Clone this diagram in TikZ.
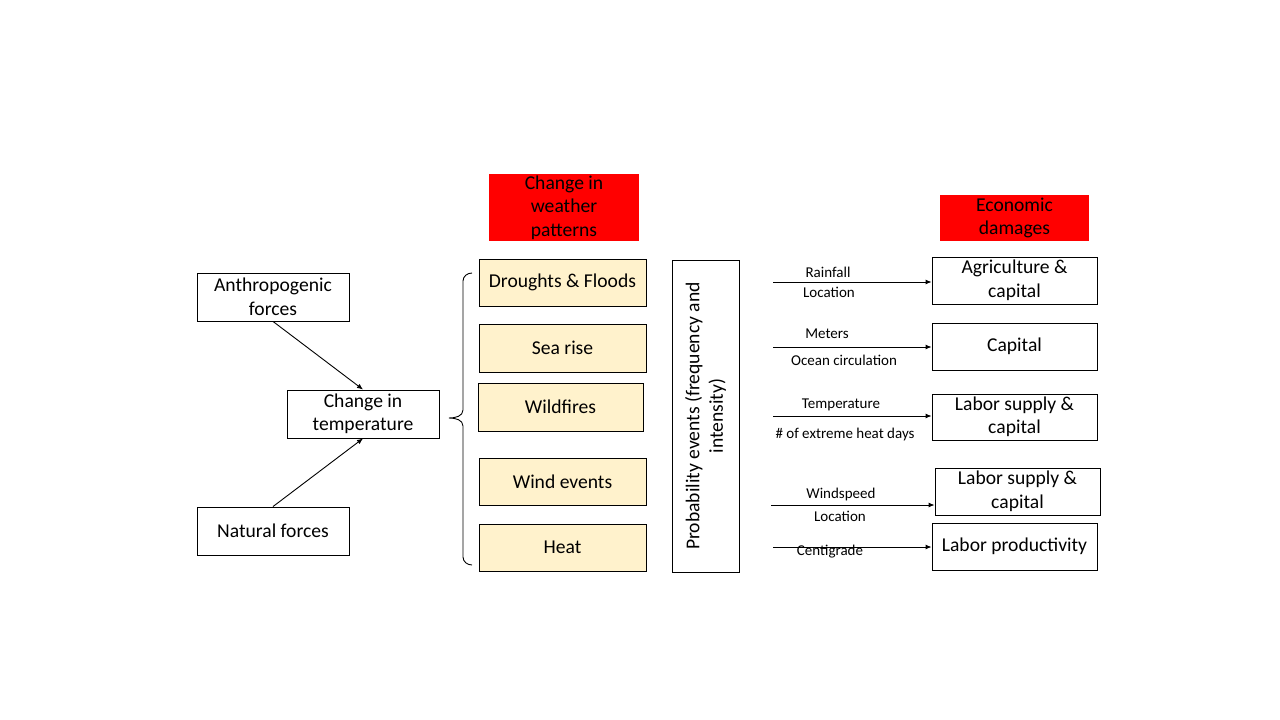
\documentclass[tikz,border=0pt]{standalone}
\usepackage{fontspec}
\setmainfont{Carlito}
\usetikzlibrary{arrows.meta}
\definecolor{lightyel}{RGB}{255,242,204}
\tikzset{
  box/.style={draw, line width=0.9pt, align=center, inner sep=0pt, font=\fontsize{19.6}{23.5}\selectfont},
  ybox/.style={box, fill=lightyel},
  rbox/.style={fill=red, align=center, inner sep=0pt, font=\fontsize{19.6}{23.5}\selectfont},
  lbl/.style={inner sep=0pt, font=\fontsize{15}{17}\selectfont},
  conn/.style={line width=0.9pt, -{Latex[length=6pt,width=5pt]}}
}
\begin{document}
\begin{tikzpicture}[x=1pt,y=-1pt]
\useasboundingbox (0,0) rectangle (1280,720);
% left column
\node[box, minimum width=152, minimum height=48] (anthro) at (273,297) {Anthropogenic\\forces};
\node[box, minimum width=152, minimum height=48] (nat) at (273,531) {Natural forces};
\node[box, minimum width=152, minimum height=48] (temp) at (363,414) {Change in\\temperature};
\draw[conn] (anthro.south) -- (temp.north);
\draw[conn] (nat.north) -- (temp.south);
% brace
\draw[line width=0.9pt] (472,273) to[out=180,in=90] (463,281) -- (463,410) to[out=-90,in=0] (449,418) to[out=0,in=90] (463,426) -- (463,557) to[out=-90,in=180] (472,565);
% weather
\node[rbox, minimum width=150, minimum height=67] (weather) at (564,207.5) {Change in\\weather\\patterns};
\node[ybox, minimum width=167, minimum height=47] (drought) at (562.5,282.5) {Droughts \& Floods};
\node[ybox, minimum width=167, minimum height=48] (sea) at (562.5,348) {Sea rise};
\node[ybox, minimum width=165, minimum height=48] (fire) at (560.5,407) {Wildfires};
\node[ybox, minimum width=167, minimum height=47] (wind) at (562.5,481.5) {Wind events};
\node[ybox, minimum width=167, minimum height=47] (heat) at (562.5,547.5) {Heat};
\node[box, rotate=90, minimum width=312, minimum height=67] (prob) at (705.5,416) {Probability events (frequency and\\intensity)};
% economic
\node[rbox, minimum width=149, minimum height=46] (econ) at (1014.5,218) {Economic\\damages};
\node[box, minimum width=165, minimum height=47] (agri) at (1014.5,280.5) {Agriculture \&\\capital};
\node[box, minimum width=165, minimum height=47] (cap) at (1014.5,346.5) {Capital};
\node[box, minimum width=165, minimum height=46] (lab1) at (1014.5,417) {Labor supply \&\\capital};
\node[box, minimum width=165, minimum height=47] (lab2) at (1017.5,491.5) {Labor supply \&\\capital};
\node[box, minimum width=165, minimum height=47] (prod) at (1014.5,546.5) {Labor productivity};
% arrows
\coordinate (s1) at (773,282);
\coordinate (s2) at (773,347);
\coordinate (s3) at (773,416);
\coordinate (s4) at (771,505);
\coordinate (s5) at (773,547);
\draw[conn] (s1) -- (s1 -| agri.west);
\draw[conn] (s2) -- (s2 -| cap.west);
\draw[conn] (s3) -- (s3 -| lab1.west);
\draw[conn] (s4) -- (s4 -| lab2.west);
\draw[conn] (s5) -- (s5 -| prod.west);
% labels
\node[lbl] (l1a) at (828,272) {Rainfall};
\node[lbl] (l1b) at (829,292) {Location};
\node[lbl] (l2a) at (827,334) {Meters};
\node[lbl] (l2b) at (844,360) {Ocean circulation};
\node[lbl] (l3a) at (841,405) {Temperature};
\node[lbl] (l3b) at (845,434) {\# of extreme heat days};
\node[lbl] (l4a) at (841,494) {Windspeed};
\node[lbl] (l4b) at (840,516) {Location};
\node[lbl] (l5a) at (830,552) {Centigrade};
\end{tikzpicture}
\end{document}
